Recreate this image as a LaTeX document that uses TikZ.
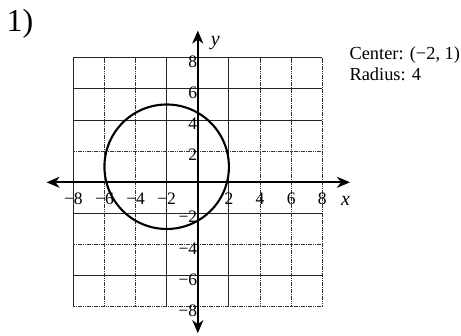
\documentclass[tikz,border=0pt]{standalone}
\usepackage{fontspec}
\setmainfont{Liberation Serif}
\usetikzlibrary{arrows.meta}
\begin{document}
\begin{tikzpicture}[x=1pt,y=1pt,
  solidgrid/.style={line width=0.9pt, black!85},
  dotgrid/.style={line width=0.9pt, black!80, dash pattern=on 1.6pt off 0.7pt},
  axisline/.style={line width=1.9pt, {Stealth[length=13pt,width=11pt,inset=4pt]}-{Stealth[length=13pt,width=11pt,inset=4pt]}},
  ticklabel/.style={inner sep=0pt, font=\fontsize{17.5}{19}\selectfont},
  axislabel/.style={inner sep=0pt, font=\fontsize{20}{22}\selectfont\itshape},
  infotext/.style={anchor=base west, inner sep=0pt, font=\fontsize{18.4}{22}\selectfont}]
\useasboundingbox (0,0) rectangle (461,336);
\node[anchor=base west, inner sep=0pt, font=\fontsize{32}{36}\selectfont] (num) at (6.5,304.3) {1)};
\node[infotext] (center) at (349.3,276.7) {Center: (−2, 1)};
\node[infotext] (radius) at (349.3,255) {Radius: 4};
\begin{scope}[shift={(197.8,153.7)}, x=15.56pt, y=15.56pt]
  % vertical grid lines
  \foreach \i in {-8,-2,2} \draw[solidgrid] (\i,-8) -- (\i,8);
  \foreach \i in {-6,-4,4,6,8} \draw[dotgrid] (\i,-8) -- (\i,8);
  % horizontal grid lines
  \foreach \j in {8,6,4,-2,-6} \draw[solidgrid] (-8,\j) -- (8,\j);
  \foreach \j in {2,-4,-8} \draw[dotgrid] (-8,\j) -- (8,\j);
  % axes
  \coordinate (xl) at (-9.72,0);
  \coordinate (xr) at (9.78,0);
  \coordinate (yb) at (0,-9.7);
  \coordinate (yt) at (0,9.75);
  \draw[axisline] (xl) -- (xr);
  \draw[axisline] (yb) -- (yt);
  \node[axislabel, anchor=base] (xlab) at (9.5,-1.52) {x};
  \node[axislabel, anchor=base] (ylab) at (1.13,8.8) {y};
  % tick labels
  \foreach \i in {-8,-6,-4,-2,2,4,6,8}{
    \pgfmathtruncatemacro{\a}{abs(\i)}
    \ifnum\i<0
      \node[ticklabel, anchor=base] (tx\i) at (\i,-1.45) {−\a};
      \node[ticklabel, anchor=base east] (ty\i) at (-0.03,\i-0.61) {−\a};
    \else
      \node[ticklabel, anchor=base] (tx\i) at (\i,-1.45) {\a};
      \node[ticklabel, anchor=base east] (ty\i) at (-0.03,\i-0.61) {\a};
    \fi
  }
  % circle
  \draw[line width=2.1pt] (-2,1) circle (4);
\end{scope}
\end{tikzpicture}
\end{document}
